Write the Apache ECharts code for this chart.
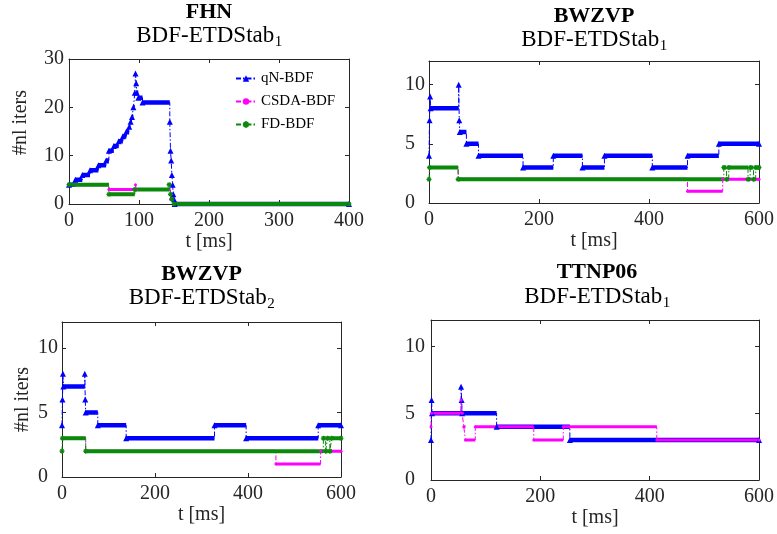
<!DOCTYPE html>
<html><head><meta charset="utf-8">
<script src="https://cdn.jsdelivr.net/npm/echarts@6/dist/echarts.min.js"></script>
<style>html,body{margin:0;padding:0;background:#fff}#c{width:777px;height:534px}</style>
</head><body><div id="c"></div>
<script>
// ---------- data (step functions: [start time, value]; value holds until next start) ----------
const seriesNames = ['qN-BDF', 'CSDA-BDF', 'FD-BDF'];

const fhnEnd = 400;
const fhnQn = [[0,4],[9,5],[19,6],[30,7],[42,8],[53,9],[57,11],[64,12],[71,13],[77,14],[82,15],[86,16],[88,17],[90,18],[92,20],[94,23],[95,27],[96,25],[97,23],[99,22],[105,21],[144,17],[145,11],[146,9],[147,6],[148,4],[149,2],[150,1],[151,0]];
const fhnCsda = [[0,4],[57,3],[95,4],[96,3],[145,1],[150,0]];
const fhnFd = [[0,4],[57,2],[94,3],[143,4],[145,2],[147,1],[150,0]];

const bw1End = 600;
const bw1Qn = [[0,4],[1,7],[2,9],[3,8],[54,10],[55,7],[56,6],[68,5],[90,4],[171,3],[226,4],[279,3],[319,4],[406,3],[470,4],[527,5]];
const bw1Csda = [[0,3],[53,2],[470,1],[534,2]];
const bw1Fd = [[0,2],[1,3],[53,2],[536,3],[541,2],[545,3],[580,2],[584,3],[590,2],[594,3]];

const bw2End = 600;
const bw2Qn = [[0,4],[1,6],[2,8],[3,7],[49,8],[50,6],[51,5],[77,4],[138,3],[328,4],[396,3],[551,4]];
const bw2Csda = [[0,3],[51,2],[460,1],[556,2]];
const bw2Fd = [[0,2],[1,3],[51,2],[562,3],[567,2],[571,3],[576,2],[580,3]];

const ttEnd = 600;
const ttQn = [[0,3],[1,6],[2,5],[55,7],[56,6],[57,5],[120,4],[254,3]];
const ttCsda = [[0,4],[1,5],[55,6],[57,5],[60,4],[63,3],[81,4],[188,3],[242,4],[413,3]];

const xTicksFHN = [0,100,200,300,400];
const yTicksFHN = [0,10,20,30];
const xTicksBW = [0,200,400,600];
const yTicksBW = [0,5,10];
const yMaxBW = 12;

const titles = ['FHN', 'BWZVP', 'BWZVP', 'TTNP06'];
const subMain = 'BDF-ETDStab';
const subIdx = ['1', '1', '2', '1'];
const yLabel = '#nl iters';
const xLabel = 't [ms]';

// ---------- styling / layout ----------
const FONT = '"Liberation Serif","Times New Roman",serif';
const AX = '#262626';
const styles = [
  {color:'#0000ff', symbol:'triangle', size:6, bar:4.5},
  {color:'#ff00ff', symbol:'circle', size:3, bar:3},
  {color:'#0a8a0a', symbol:'path://M0,-1L0,1M-1,0L1,0M-0.7,-0.7L0.7,0.7M-0.7,0.7L0.7,-0.7', size:5, bar:4}
];

const panels = [
  {grid:{left:69,top:59,width:280,height:145}, end:fhnEnd, xt:xTicksFHN, yt:yTicksFHN, ymax:30,
   data:[fhnQn,fhnCsda,fhnFd], yName:true, yAlign:'right', yMargin:5, nameGap:38, namePad:[0,0,0,18], tY1:12, tY2:36},
  {grid:{left:429,top:61,width:330,height:142}, end:bw1End, xt:xTicksBW, yt:yTicksBW, ymax:yMaxBW,
   data:[bw1Qn,bw1Csda,bw1Fd], yName:false, yAlign:'left', yMargin:24, tY1:16, tY2:40},
  {grid:{left:62,top:322,width:279,height:155}, end:bw2End, xt:xTicksBW, yt:yTicksBW, ymax:yMaxBW,
   data:[bw2Qn,bw2Csda,bw2Fd], yName:true, yAlign:'left', yMargin:24, nameGap:29, namePad:[0,0,0,0], tY1:274, tY2:298},
  {grid:{left:431,top:320,width:332,height:160}, end:ttEnd, xt:xTicksBW, yt:yTicksBW, ymax:yMaxBW,
   data:[ttQn,ttCsda,null], yName:false, yAlign:'left', yMargin:26, tY1:272, tY2:297}
];

function stepLine(pairs, tEnd){ return pairs.concat([[tEnd, pairs[pairs.length-1][1]]]); }
function bars(pairs, tEnd){
  const out = [];
  for (let i=0;i<pairs.length;i++){
    const t0 = pairs[i][0], v = pairs[i][1];
    const t1 = i+1<pairs.length ? pairs[i+1][0] : tEnd;
    out.push([t0,v],[t1,v],[t1,'-']);
  }
  return out;
}
const mctx = document.createElement('canvas').getContext('2d');
function textW(font, s){ mctx.font = font; return mctx.measureText(s).width; }

const MAINFONT = '23px ' + FONT, SUBFONT = '15px ' + FONT;
const grids=[], xAxes=[], yAxes=[], series=[], graphics=[];
panels.forEach((p,i)=>{
  grids.push(Object.assign({containLabel:false}, p.grid));
  const xint = p.xt[1]-p.xt[0], yint = p.yt[1]-p.yt[0];
  const common = {axisLine:{show:true,onZero:false,lineStyle:{color:AX,width:1}}, axisTick:{show:true,inside:true,length:4,lineStyle:{color:AX}}, splitLine:{show:false}};
  xAxes.push(Object.assign({}, common, {type:'value', gridIndex:i, min:p.xt[0], max:p.xt[p.xt.length-1], interval:xint, position:'bottom',
    axisLabel:{show:true, margin:7, fontSize:20, color:'#262626', fontFamily:FONT},
    name:xLabel, nameLocation:'middle', nameGap:27, nameTextStyle:{fontSize:20, color:'#262626', fontFamily:FONT}}));
  xAxes.push(Object.assign({}, common, {type:'value', gridIndex:i, min:p.xt[0], max:p.xt[p.xt.length-1], interval:xint, position:'top', axisLabel:{show:false}}));
  yAxes.push(Object.assign({}, common, {type:'value', gridIndex:i, min:p.yt[0], max:p.ymax, interval:yint, position:'left',
    axisLabel:{show:true, margin:p.yMargin, align:p.yAlign, fontSize:20, color:'#262626', fontFamily:FONT, showMaxLabel: p.ymax===p.yt[p.yt.length-1]},
    name:p.yName?yLabel:'', nameLocation:'middle', nameRotate:90, nameGap:p.nameGap||30,
    nameTextStyle:{fontSize:20, color:'#262626', fontFamily:FONT, padding:p.namePad||0}}));
  yAxes.push(Object.assign({}, common, {type:'value', gridIndex:i, min:p.yt[0], max:p.ymax, interval:yint, position:'right', axisLabel:{show:false}}));

  p.data.forEach((d,k)=>{
    if(!d) return;
    const st = styles[k];
    series.push({type:'line', name:seriesNames[k]+'_bar', xAxisIndex:2*i, yAxisIndex:2*i, data:bars(d,p.end),
      showSymbol:false, symbol:'none', clip:false, silent:true, animation:false, connectNulls:false,
      lineStyle:{color:st.color, width:st.bar, cap:'butt'}, itemStyle:{color:st.color}});
    series.push({type:'line', name:seriesNames[k], xAxisIndex:2*i, yAxisIndex:2*i, data:stepLine(d,p.end), step:'end',
      symbol:st.symbol, symbolSize:st.size, showSymbol:true, showAllSymbol:true, clip:false, animation:false,
      lineStyle:{color:st.color, width:1, type:[5,2,1.5,2]}, itemStyle:{color:st.color, borderColor:st.color, borderWidth: k===2?1.2:0}});
  });

  const cx = p.grid.left + p.grid.width/2;
  graphics.push({type:'text', x:cx, y:p.tY1, style:{text:titles[i], font:'bold 22px '+FONT, fill:'#000', align:'center', verticalAlign:'middle'}});
  const wm = textW(MAINFONT, subMain), ws = textW(SUBFONT, subIdx[i]);
  const x0 = cx - (wm + ws)/2;
  graphics.push({type:'text', x:x0, y:p.tY2, style:{text:subMain, font:MAINFONT, fill:'#000', align:'left', verticalAlign:'middle'}});
  graphics.push({type:'text', x:x0 + wm + 0.5, y:p.tY2 + 6, style:{text:subIdx[i], font:SUBFONT, fill:'#000', align:'left', verticalAlign:'middle'}});
});

const chart = echarts.init(document.getElementById('c'), null, {renderer:'canvas'});
chart.setOption({
  animation:false,
  backgroundColor:'#fff',
  grid:grids, xAxis:xAxes, yAxis:yAxes, series:series, graphic:graphics,
  legend:{data:seriesNames, orient:'vertical', left:230, top:66, itemGap:8, itemWidth:20, itemHeight:8,
    textStyle:{fontFamily:FONT, fontSize:15, color:'#000'}, selectedMode:false}
});
</script></body></html>
